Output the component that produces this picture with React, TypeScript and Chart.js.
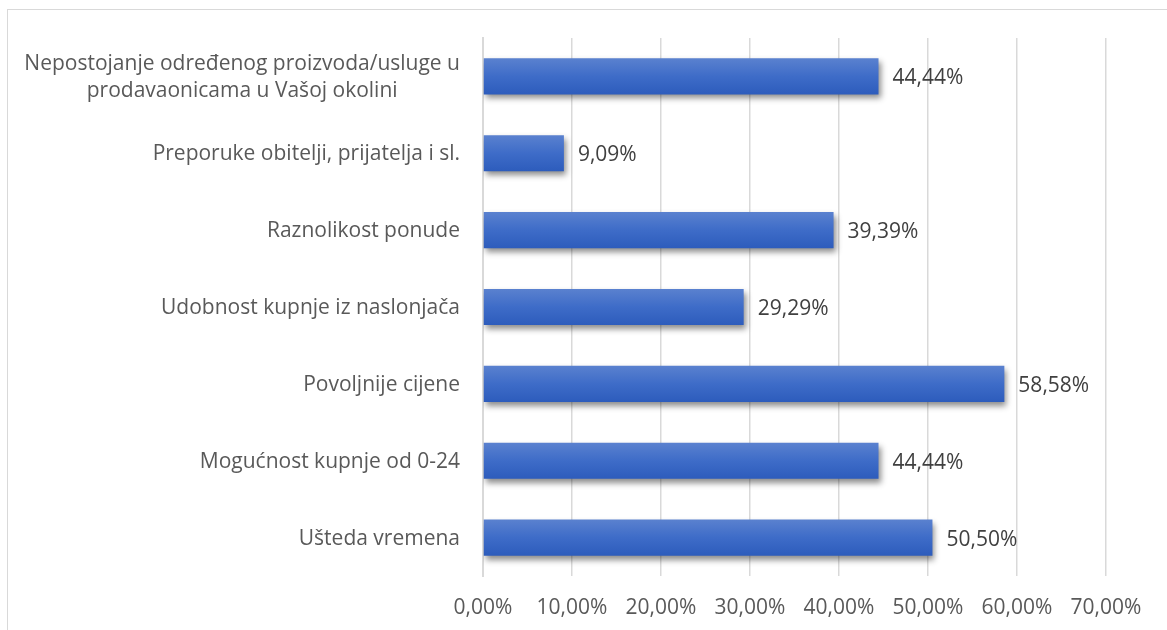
import React, { useEffect, useRef } from "react";
import { Chart, registerables } from "chart.js";

Chart.register(...registerables);

const categories: string[][] = [
  ["Nepostojanje određenog proizvoda/usluge u", "prodavaonicama u Vašoj okolini"],
  ["Preporuke obitelji, prijatelja i sl."],
  ["Raznolikost ponude"],
  ["Udobnost kupnje iz naslonjača"],
  ["Povoljnije cijene"],
  ["Mogućnost kupnje od 0-24"],
  ["Ušteda vremena"],
];
const values: number[] = [44.44, 9.09, 39.39, 29.29, 58.58, 44.44, 50.5];
const xTicks: number[] = [0, 10, 20, 30, 40, 50, 60, 70];

const FONT = "'Open Sans', 'Noto Sans', sans-serif";
const fmt = (v: number) => v.toFixed(2).replace(".", ",") + "%";

export default function App() {
  const ref = useRef<HTMLCanvasElement | null>(null);
  useEffect(() => {
    const canvas = ref.current!;
    const labelsPlugin = {
      id: "customLabels",
      beforeDatasetsDraw(chart: any) {
        const c = chart.ctx;
        c.save();
        c.shadowColor = "rgba(0,0,0,0.45)";
        c.shadowBlur = 6;
        c.shadowOffsetX = 2;
        c.shadowOffsetY = 4;
      },
      afterDatasetsDraw(chart: any) {
        const c = chart.ctx;
        c.restore();
        const ys = chart.scales.y;
        c.save();
        c.font = `21px ${FONT}`;
        c.fillStyle = "#595959";
        c.textBaseline = "middle";
        categories.forEach((lines, i) => {
          const cy = ys.getPixelForValue(i) + 1;
          const lh = 27;
          const widths = lines.map((l) => c.measureText(l).width);
          const maxW = Math.max(...widths);
          const right = 460;
          const center = right - maxW / 2;
          lines.forEach((l, j) => {
            const y = cy + (j - (lines.length - 1) / 2) * lh;
            c.textAlign = "center";
            c.fillText(l, center, y);
          });
        });
        const meta = chart.getDatasetMeta(0);
        c.fillStyle = "#404040";
        c.textAlign = "left";
        meta.data.forEach((el: any, i: number) => {
          c.fillText(fmt(values[i]), el.x + 14, el.y + 2);
        });
        c.restore();
      },
    };
    const chart = new Chart(canvas, {
      type: "bar",
      data: {
        labels: categories.map((l) => l.join(" ")),
        datasets: [
          {
            data: values,
            barPercentage: 0.47,
            categoryPercentage: 1,
            backgroundColor: (ctx: any) => {
              const ch = ctx.chart;
              const ys = ch.scales && ch.scales.y;
              if (!ys || ctx.dataIndex === undefined) return "#3d6bc6";
              const y = ys.getPixelForValue(ctx.dataIndex);
              if (!Number.isFinite(y)) return "#3d6bc6";
              const g = ch.ctx.createLinearGradient(0, y - 18, 0, y + 18);
              g.addColorStop(0, "#5a81cf");
              g.addColorStop(0.5, "#3e6cc8");
              g.addColorStop(1, "#2d5cbc");
              return g;
            },
            borderWidth: 0,
          },
        ],
      },
      options: {
        indexAxis: "y",
        animation: false,
        responsive: false,
        maintainAspectRatio: false,
        layout: { padding: { top: 38, right: 61, left: 0, bottom: 0 } },
        plugins: { legend: { display: false }, tooltip: { enabled: false } },
        scales: {
          x: {
            min: 0,
            max: 70,
            afterBuildTicks: (s: any) => {
              s.ticks = xTicks.map((v) => ({ value: v }));
            },
            afterFit: (s: any) => {
              s.height = 54;
            },
            grid: { color: "#d9d9d9", lineWidth: 1.5, drawTicks: false },
            border: { display: false },
            ticks: {
              padding: 19,
              color: "#595959",
              font: { family: FONT, size: 21 },
              callback: (v: any) => fmt(Number(v)),
            },
          },
          y: {
            afterFit: (s: any) => {
              s.width = 483;
            },
            grid: { display: false },
            border: { display: true, color: "#d9d9d9", width: 2 },
            ticks: { display: false },
          },
        },
      },
      plugins: [labelsPlugin],
    } as any);
    return () => chart.destroy();
  }, []);
  return (
    <div style={{ position: "fixed", inset: 0, overflow: "hidden", background: "#fff" }}>
      <div
        style={{
          position: "absolute",
          left: 7,
          top: 9,
          width: 1300,
          height: 700,
          border: "1.5px solid #d9d9d9",
          boxSizing: "border-box",
        }}
      />
      <canvas
        ref={ref}
        width={1167}
        height={630}
        style={{ position: "absolute", left: 0, top: 0, width: 1167, height: 630 }}
      />
    </div>
  );
}
